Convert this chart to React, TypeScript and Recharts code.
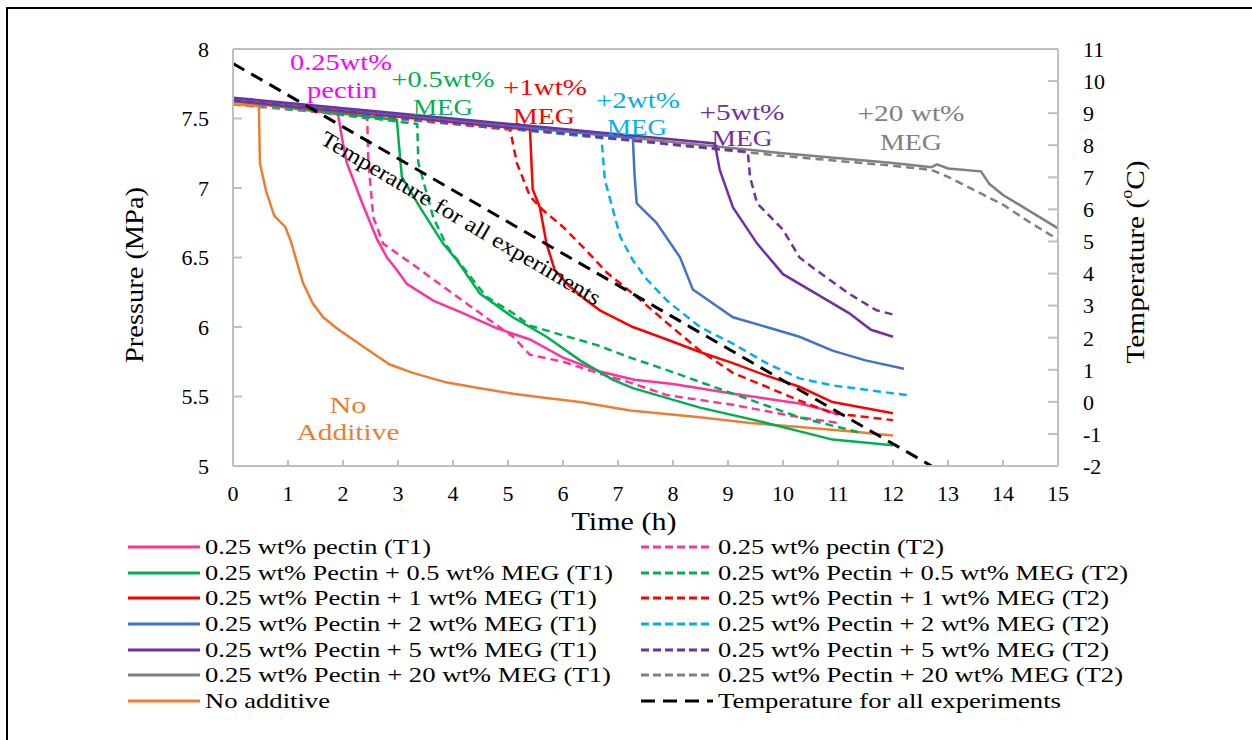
import { LineChart, Line, XAxis, YAxis, ReferenceLine } from 'recharts';

const fontFamily = '"Liberation Serif", Tinos, "Times New Roman", Times, "DejaVu Serif", serif';

const timeTicks = [0, 1, 2, 3, 4, 5, 6, 7, 8, 9, 10, 11, 12, 13, 14, 15];
const pressureTicks = [5, 5.5, 6, 6.5, 7, 7.5, 8];
const temperatureTicks = [-2, -1, 0, 1, 2, 3, 4, 5, 6, 7, 8, 9, 10, 11];

// [time (h), pressure (MPa)]
const noAdditive = [
  [0, 7.6], [0.47, 7.59], [0.49, 7.18], [0.6, 6.98], [0.75, 6.8], [0.95, 6.72], [1.05, 6.62],
  [1.27, 6.32], [1.45, 6.17], [1.64, 6.07], [1.89, 5.99], [2.18, 5.91], [2.55, 5.81],
  [2.85, 5.73], [3.27, 5.67], [3.89, 5.6], [4.49, 5.56], [5.09, 5.52], [5.7, 5.49],
  [6.31, 5.46], [7.22, 5.4], [8.49, 5.35], [9.4, 5.31], [10.3, 5.28], [11.2, 5.25], [12.0, 5.22],
];
const pectinT1 = [
  [0, 7.63], [1.91, 7.53], [2.0, 7.32], [2.07, 7.18], [2.35, 6.89], [2.62, 6.63], [2.8, 6.5],
  [2.98, 6.41], [3.16, 6.31], [3.64, 6.19], [4.18, 6.1], [4.8, 5.99], [5.4, 5.91], [6.0, 5.78],
  [6.67, 5.68], [7.3, 5.62], [8.0, 5.59], [9.1, 5.52], [10.3, 5.45], [10.8, 5.4], [11.0, 5.37],
];
const pectinT2 = [
  [0, 7.63], [2.44, 7.5], [2.46, 7.2], [2.55, 6.79], [2.73, 6.6], [2.98, 6.53], [3.27, 6.45],
  [3.58, 6.36], [4.07, 6.22], [4.49, 6.1], [5.09, 5.93], [5.4, 5.8], [6.0, 5.75], [6.62, 5.67],
  [7.22, 5.6], [7.89, 5.51], [9.09, 5.44], [10.3, 5.35], [11.0, 5.31],
];
const meg05T1 = [
  [0, 7.63], [2.98, 7.49], [3.02, 7.3], [3.07, 7.08], [3.4, 6.86], [3.82, 6.6], [4.07, 6.48],
  [4.49, 6.24], [5.09, 6.07], [5.7, 5.93], [6.31, 5.76], [6.91, 5.62], [7.27, 5.56],
  [8.49, 5.42], [9.7, 5.31], [10.9, 5.19], [12.0, 5.15],
];
const meg05T2 = [
  [0, 7.63], [3.35, 7.46], [3.37, 7.18], [3.64, 6.79], [3.89, 6.58], [4.2, 6.42], [4.6, 6.22],
  [5.09, 6.1], [5.4, 6.01], [6.0, 5.94], [6.62, 5.87], [7.22, 5.78], [7.89, 5.69],
  [9.09, 5.52], [10.3, 5.35], [11.4, 5.24],
];
const meg1T1 = [
  [0, 7.63], [5.4, 7.42], [5.43, 7.15], [5.45, 6.99], [5.58, 6.86], [5.7, 6.6], [5.85, 6.41],
  [6.1, 6.3], [6.4, 6.2], [6.67, 6.12], [7.27, 6.0], [7.89, 5.91], [8.49, 5.82], [9.09, 5.74],
  [9.7, 5.65], [10.3, 5.57], [10.9, 5.46], [12.0, 5.38],
];
const meg1T2 = [
  [0, 7.63], [5.04, 7.42], [5.16, 7.18], [5.4, 6.94], [5.64, 6.84], [6.0, 6.72], [6.4, 6.56],
  [6.8, 6.39], [7.27, 6.24], [7.89, 6.03], [8.49, 5.83], [9.09, 5.67], [9.7, 5.57],
  [10.3, 5.47], [10.9, 5.38], [12.0, 5.33],
];
const meg2T1 = [
  [0, 7.64], [7.27, 7.36], [7.3, 7.1], [7.34, 6.89], [7.7, 6.75], [8.13, 6.5], [8.36, 6.27],
  [9.09, 6.07], [9.7, 6.0], [10.3, 5.93], [10.9, 5.83], [11.5, 5.76], [12.2, 5.7],
];
const meg2T2 = [
  [0, 7.63], [6.7, 7.36], [6.76, 7.06], [7.04, 6.65], [7.27, 6.48], [7.53, 6.34], [7.89, 6.19],
  [8.49, 6.0], [9.09, 5.88], [9.7, 5.74], [10.3, 5.63], [10.9, 5.58], [12.25, 5.51],
];
const meg5T1 = [
  [0, 7.65], [8.76, 7.32], [8.85, 7.13], [9.09, 6.86], [9.53, 6.6], [10.0, 6.38], [10.6, 6.24],
  [11.2, 6.1], [11.6, 5.98], [12.0, 5.93],
];
const meg5T2 = [
  [0, 7.63], [9.36, 7.26], [9.4, 7.08], [9.53, 6.89], [10.0, 6.7], [10.3, 6.5], [10.6, 6.41],
  [11.2, 6.24], [11.7, 6.12], [12.0, 6.09],
];
const meg20T1 = [
  [0, 7.62], [2, 7.55], [4, 7.48], [6, 7.41], [8, 7.33], [10, 7.25], [12, 7.18], [12.7, 7.15],
  [12.8, 7.17], [13.0, 7.14], [13.6, 7.12], [13.75, 7.03], [14, 6.95], [14.5, 6.83], [15, 6.71],
];
const meg20T2 = [
  [0, 7.6], [2, 7.53], [4, 7.46], [6, 7.39], [8, 7.31], [10, 7.23], [12, 7.16], [12.7, 7.13],
  [13.0, 7.08], [13.5, 6.98], [14, 6.88], [14.5, 6.75], [15, 6.63],
];
// [time (h), temperature (°C)]
const temperature = [[0, 10.55], [12.7, -2.0]];

type Series = {
  key: string;
  name: string;
  points: number[][];
  color: string;
  dashed?: boolean;
  axis?: string;
};

// draw order (last on top)
const series: Series[] = [
  { key: 'meg20T2', name: '0.25 wt% Pectin + 20 wt% MEG (T2)', points: meg20T2, color: '#808080', dashed: true },
  { key: 'meg20T1', name: '0.25 wt% Pectin + 20 wt% MEG (T1)', points: meg20T1, color: '#808080' },
  { key: 'noAdd', name: 'No additive', points: noAdditive, color: '#ed7d31' },
  { key: 'pectinT2', name: '0.25 wt% pectin (T2)', points: pectinT2, color: '#ff3399', dashed: true },
  { key: 'pectinT1', name: '0.25 wt% pectin (T1)', points: pectinT1, color: '#ff3399' },
  { key: 'meg05T2', name: '0.25 wt% Pectin + 0.5 wt% MEG (T2)', points: meg05T2, color: '#00b050', dashed: true },
  { key: 'meg05T1', name: '0.25 wt% Pectin + 0.5 wt% MEG (T1)', points: meg05T1, color: '#00b050' },
  { key: 'meg1T2', name: '0.25 wt% Pectin + 1 wt% MEG (T2)', points: meg1T2, color: '#ff0000', dashed: true },
  { key: 'meg1T1', name: '0.25 wt% Pectin + 1 wt% MEG (T1)', points: meg1T1, color: '#ff0000' },
  { key: 'meg2T2', name: '0.25 wt% Pectin + 2 wt% MEG (T2)', points: meg2T2, color: '#00b0f0', dashed: true },
  { key: 'meg2T1', name: '0.25 wt% Pectin + 2 wt% MEG (T1)', points: meg2T1, color: '#4472c4' },
  { key: 'meg5T2', name: '0.25 wt% Pectin + 5 wt% MEG (T2)', points: meg5T2, color: '#7030a0', dashed: true },
  { key: 'meg5T1', name: '0.25 wt% Pectin + 5 wt% MEG (T1)', points: meg5T1, color: '#7030a0' },
  { key: 'temp', name: 'Temperature for all experiments', points: temperature, color: '#000000', dashed: true, axis: 'right' },
];

const legendLeft = ['pectinT1', 'meg05T1', 'meg1T1', 'meg2T1', 'meg5T1', 'meg20T1', 'noAdd'];
const legendRight = ['pectinT2', 'meg05T2', 'meg1T2', 'meg2T2', 'meg5T2', 'meg20T2', 'temp'];

// legend text widths in px
const legendWidth: Record<string, number> = {
  pectinT1: 226, meg05T1: 408, meg1T1: 392, meg2T1: 392, meg5T1: 392, meg20T1: 406, noAdd: 125,
  pectinT2: 226, meg05T2: 410, meg1T2: 391, meg2T2: 391, meg5T2: 391, meg20T2: 405, temp: 343,
};

const annotations = [
  { text: '0.25wt%', x: 341, y: 62, w: 102, color: '#ff00ff' },
  { text: 'pectin', x: 342, y: 90, w: 70, color: '#ff00ff' },
  { text: '+0.5wt%', x: 443, y: 79, w: 103, color: '#00b050' },
  { text: 'MEG', x: 443, y: 107, w: 60, color: '#00b050' },
  { text: '+1wt%', x: 545, y: 87, w: 84, color: '#ff0000' },
  { text: 'MEG', x: 544, y: 116, w: 62, color: '#ff0000' },
  { text: '+2wt%', x: 638, y: 100, w: 84, color: '#00b0f0' },
  { text: 'MEG', x: 637, y: 127, w: 60, color: '#00b0f0' },
  { text: '+5wt%', x: 742, y: 112, w: 85, color: '#7030a0' },
  { text: 'MEG', x: 742, y: 138, w: 61, color: '#7030a0' },
  { text: '+20 wt%', x: 911, y: 113, w: 107, color: '#808080' },
  { text: 'MEG', x: 911, y: 142, w: 62, color: '#808080' },
  { text: 'No', x: 348, y: 405, w: 37, color: '#ed7d31' },
  { text: 'Additive', x: 348, y: 432, w: 103, color: '#ed7d31' },
];

const axisColor = '#bfbfbf';
const tickStyle = { fontSize: 22, fill: '#000', fontFamily };

function dashFor(s: Series) {
  if (!s.dashed) return undefined;
  return s.key === 'temp' ? '13 8' : '8 5';
}

function LegendItem({ s }: { s: Series }) {
  return (
    <svg width={560} height={25.7} style={{ display: 'block' }} fontFamily={fontFamily}>
      <line
        x1={0}
        x2={72}
        y1={13}
        y2={13}
        stroke={s.color}
        strokeWidth={3}
        strokeDasharray={s.key === 'temp' ? '14 8' : s.dashed ? '8 4' : undefined}
      />
      <text
        x={77}
        y={13}
        dominantBaseline="central"
        fontSize={21}
        fill="#000"
        textLength={legendWidth[s.key]}
        lengthAdjust="spacingAndGlyphs"
      >
        {s.name}
      </text>
    </svg>
  );
}

export default function App() {
  const byKey = (k: string) => series.find((s) => s.key === k)!;
  return (
    <div style={{ position: 'fixed', left: 0, top: 0, width: 1252, height: 740, overflow: 'hidden', background: '#fff', fontFamily }}>
      <div
        style={{
          position: 'absolute',
          left: 6,
          top: 7,
          width: 1400,
          height: 900,
          borderLeft: '2px solid #000',
          borderTop: '2px solid #000',
        }}
      />
      <div style={{ position: 'absolute', left: 0, top: 0 }}>
        <LineChart width={1252} height={740} margin={{ top: 49, right: 134, bottom: 244, left: 173 }}>
          <XAxis
            type="number"
            dataKey="t"
            domain={[0, 15]}
            ticks={timeTicks}
            allowDataOverflow
            stroke={axisColor}
            strokeWidth={2}
            tickSize={-6}
            tickMargin={25}
            tick={tickStyle}
            height={30}
          />
          <YAxis
            yAxisId="left"
            type="number"
            domain={[5, 8]}
            ticks={pressureTicks}
            allowDataOverflow
            stroke={axisColor}
            strokeWidth={2}
            tickSize={-9}
            tickMargin={33}
            tick={tickStyle}
            width={60}
          />
          <YAxis
            yAxisId="right"
            orientation="right"
            type="number"
            domain={[-2, 11]}
            ticks={temperatureTicks}
            allowDataOverflow
            stroke={axisColor}
            strokeWidth={2}
            tickSize={-10}
            tickMargin={35}
            tick={tickStyle}
            width={60}
          />
          <ReferenceLine yAxisId="left" y={8} stroke={axisColor} strokeWidth={2} />
          {series.map((s) => (
            <Line
              key={s.key}
              yAxisId={s.axis ?? 'left'}
              data={s.points.map(([t, v]) => ({ t, v }))}
              dataKey="v"
              name={s.name}
              type="linear"
              stroke={s.color}
              strokeWidth={s.key === 'temp' ? 3 : 2.5}
              strokeDasharray={dashFor(s)}
              dot={false}
              activeDot={false}
              isAnimationActive={false}
            />
          ))}
        </LineChart>
      </div>
      <svg
        width={1252}
        height={740}
        style={{ position: 'absolute', left: 0, top: 0, pointerEvents: 'none' }}
        fontFamily={fontFamily}
      >
        {annotations.map((a, i) => (
          <text
            key={i}
            x={a.x}
            y={a.y}
            textAnchor="middle"
            dominantBaseline="central"
            fontSize={23}
            fill={a.color}
            textLength={a.w}
            lengthAdjust="spacingAndGlyphs"
          >
            {a.text}
          </text>
        ))}
        <text
          x={461}
          y={218}
          textAnchor="middle"
          dominantBaseline="central"
          fontSize={22}
          fill="#000"
          textLength={321}
          lengthAdjust="spacingAndGlyphs"
          transform="rotate(30.5 461 218)"
        >
          Temperature for all experiments
        </text>
        <text
          x={134}
          y={275}
          textAnchor="middle"
          dominantBaseline="central"
          fontSize={26}
          fill="#000"
          textLength={176}
          lengthAdjust="spacingAndGlyphs"
          transform="rotate(-90 134 275)"
        >
          Pressure (MPa)
        </text>
        <text
          x={1135}
          y={262}
          textAnchor="middle"
          dominantBaseline="central"
          fontSize={26}
          fill="#000"
          textLength={203}
          lengthAdjust="spacingAndGlyphs"
          transform="rotate(-90 1135 262)"
        >
          Temperature (<tspan fontSize={16} dy={-9}>o</tspan><tspan dy={9}>C)</tspan>
        </text>
        <text
          x={624}
          y={521}
          textAnchor="middle"
          dominantBaseline="central"
          fontSize={26}
          fill="#000"
          textLength={105}
          lengthAdjust="spacingAndGlyphs"
        >
          Time (h)
        </text>
      </svg>
      <div style={{ position: 'absolute', left: 128, top: 534 }}>
        {legendLeft.map((k) => (
          <LegendItem key={k} s={byKey(k)} />
        ))}
      </div>
      <div style={{ position: 'absolute', left: 641, top: 534 }}>
        {legendRight.map((k) => (
          <LegendItem key={k} s={byKey(k)} />
        ))}
      </div>
    </div>
  );
}
